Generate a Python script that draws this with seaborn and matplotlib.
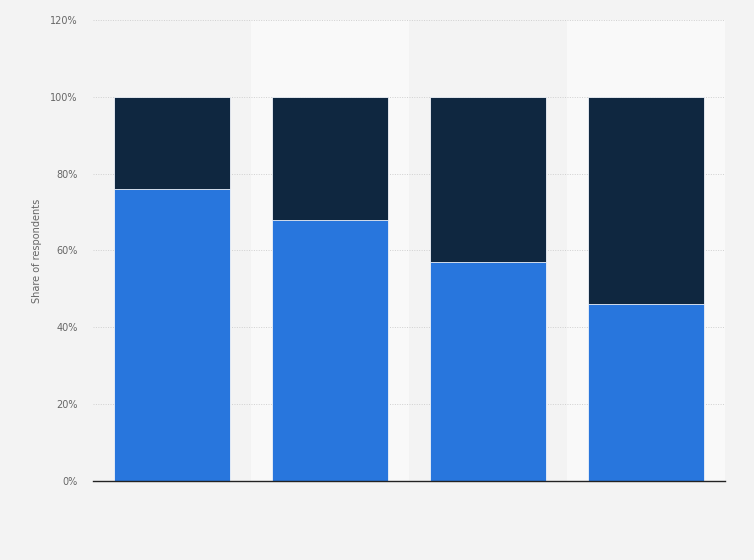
import matplotlib
matplotlib.use("Agg")
import matplotlib.pyplot as plt
import seaborn as sns
import pandas as pd
from matplotlib.ticker import FuncFormatter

# Data (share of respondents, %)
groups = ["A", "B", "C", "D"]
share_blue = [76, 68, 57, 46]
share_total = [100, 100, 100, 100]

df = pd.DataFrame({"group": groups, "blue": share_blue, "total": share_total})

sns.set_style("white")
plt.rcParams['font.family'] = ['DejaVu Sans']

fig = plt.figure(figsize=(7.54, 5.6), dpi=100)
fig.patch.set_facecolor("#f3f3f3")
ax = fig.add_axes([0.1233, 0.1411, 0.8382, 0.8232])
ax.set_facecolor("#f3f3f3")

# alternating column bands
for i in range(len(groups)):
    if i % 2 == 1:
        ax.axvspan(i - 0.5, i + 0.5, color="#f9f9f9", zorder=0, lw=0)

sns.barplot(data=df, x="group", y="total", color="#0f2740", width=0.74,
            saturation=1, edgecolor="#f0f4fa", linewidth=0.6, ax=ax, zorder=3)
sns.barplot(data=df, x="group", y="blue", color="#2876dd", width=0.74,
            saturation=1, edgecolor="#f0f4fa", linewidth=0.6, ax=ax, zorder=3)

ax.set_xlim(-0.5, len(groups) - 0.5)
ax.set_ylim(0, 120)
ax.set_yticks(range(0, 121, 20))
ax.yaxis.set_major_formatter(FuncFormatter(lambda v, p: f"{int(v)}%"))
ax.grid(axis="y", color="#d0d0d0", linestyle=(0, (1, 1.5)), linewidth=0.7, zorder=1)
ax.set_axisbelow(True)

ax.set_xticks([])
ax.set_xlabel("")
ax.set_ylabel("Share of respondents", fontsize=7, color="#666666", labelpad=6)
ax.tick_params(axis="y", labelsize=7, labelcolor="#666666", length=0, pad=11)

for s in ["top", "right", "left"]:
    ax.spines[s].set_visible(False)
ax.spines["bottom"].set_color("#222222")
ax.spines["bottom"].set_linewidth(1)
ax.spines["bottom"].set_zorder(5)

fig.savefig("out.png", dpi=100, facecolor=fig.get_facecolor())
